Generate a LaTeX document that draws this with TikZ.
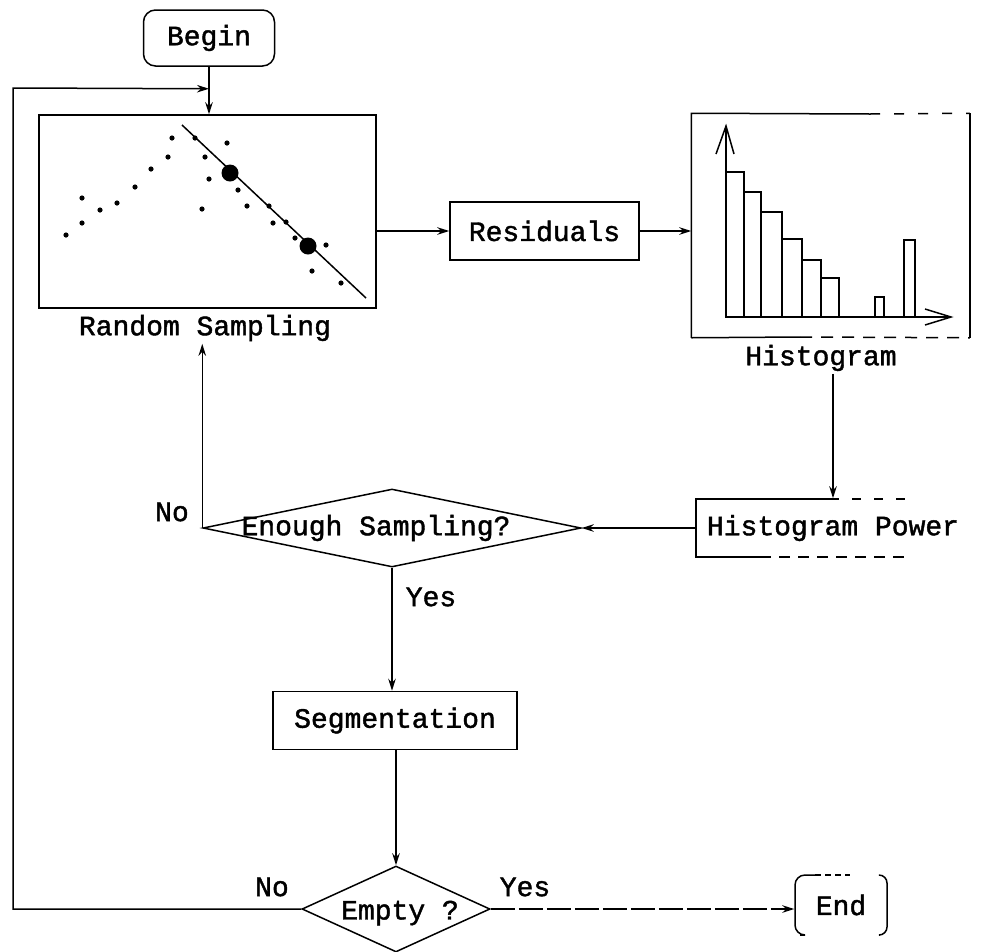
\documentclass[tikz,border=0pt]{standalone}
\usepackage{fontspec}
\newfontfamily\cour{Liberation Mono}[FakeBold=1.5]
\usetikzlibrary{arrows.meta,shapes.geometric}
\begin{document}
\begin{tikzpicture}[x=1pt,y=-1pt,line width=1.5pt,
  font=\cour\fontsize{28}{30}\selectfont,
  box/.style={draw,minimum height=58pt,inner sep=0pt},
  arr/.style={-{Stealth[length=12pt,width=7.5pt]}},
  dia/.style={diamond,draw,inner sep=0pt},
  lbl/.style={inner sep=2pt}]
\useasboundingbox (0,0) rectangle (992,951);

% ---- nodes ----
\node[draw,rounded corners=12pt,minimum width=131pt,minimum height=56pt,inner sep=0pt] (begin) at (209,38) {Begin};
\node[draw,minimum width=337pt,minimum height=193pt,inner sep=0pt] (rs) at (207.5,211.5) {};
\node[lbl] (rslabel) at (205,328) {Random Sampling};
\node[box,minimum width=189pt] (res) at (544.5,231) {Residuals};
\node[minimum width=277pt,minimum height=223pt,inner sep=0pt] (hist) at (830.5,225.5) {};
\node[lbl] (histlabel) at (821,358) {Histogram};
\node[minimum width=274pt,minimum height=58pt,inner sep=0pt] (hp) at (833,528) {Histogram Power};
\node[dia,minimum width=378pt,minimum height=78pt] (enough) at (392,528) {};
\node[lbl] (enoughtext) at (376,528) {Enough Sampling?};
\node[box,minimum width=244pt] (seg) at (395,720.5) {Segmentation};
\node[dia,minimum width=188pt,minimum height=86pt] (empty) at (396,909) {};
\node[lbl] (emptytext) at (400,913) {Empty ?};
\node[minimum width=92pt,minimum height=60pt,inner sep=0pt] (endn) at (841,905) {End};

\node[lbl] (no1) at (172,512) {No};
\node[lbl] (yes1) at (431,597) {Yes};
\node[lbl] (no2) at (272,887) {No};
\node[lbl] (yes2) at (525,887) {Yes};

% ---- scatter plot in Random Sampling ----
\foreach \p in {(66,235),(82,198),(82,223),(100,210),(117,203),(135,187),
  (151,169),(168,157),(172,138),(195,138),(205,157),(209,179),(227,143),
  (202,209),(238,190),(247,206),(269,206),(273,223),(286,222),(295,238),
  (326,245),(312,271),(341,283)}
  \fill \p circle (2.6pt);
\fill (230,173) circle (8.5pt);
\fill (308,246) circle (8.5pt);
\draw (182,125) -- (366,298);

% ---- histogram box ----
\draw (hist.south west) -- (hist.north west) -- (870,114);
\draw[dash pattern=on 10pt off 14pt] (870,114) -- (hist.north east);
\draw (hist.north east) -- (hist.south east);
\draw (hist.south west) -- (800,337);
\draw[dash pattern=on 12pt off 9pt] (800,337) -- (hist.south east);
% bars
\draw (726,317) rectangle (744,172);
\draw (744,317) rectangle (761,192);
\draw (761,317) rectangle (782,212);
\draw (782,317) rectangle (802,239);
\draw (802,317) rectangle (821,260);
\draw (821,317) rectangle (839,278);
\draw (875,317) rectangle (884,297);
\draw (904,317) rectangle (915,240);
% axes
\draw (726,317) -- (726,126);
\draw (716,154) -- (726,126) -- (734,154);
\draw (726,317) -- (951,317);
\draw (925,309) -- (951,317) -- (925,325);

% ---- Histogram Power partial border ----
\draw (830,499) -- (696,499) -- (696,557) -- (760,557);
\draw[dash pattern=on 9pt off 13pt] (830,499) -- (918,499);
\draw[dash pattern=on 11pt off 8pt] (760,557) -- (905,557);

% ---- End partial border ----
\draw[rounded corners=10pt] (815,875) -- (795,875) -- (795,935) -- (800,935);
\draw[dash pattern=on 6pt off 4pt] (815,875) -- (850,875);
\draw[rounded corners=8pt] (880,875) -- (887,875) -- (887,935) -- (880,935);

% ---- connectors ----
\draw[arr] (begin.south) -- (begin.south |- rs.north);
\path (begin.south) ++(0,22) coordinate (j);
\draw[arr] (empty.west) -| (13,88) -- (j);
\draw[arr] (res.west -| rs.east) -- (res.west);
\draw[arr] (res.east) -- (res.east -| hist.west);
\draw[arr] (hp.north |- histlabel.south) -- (hp.north);
\draw[arr] (hp.west) -- (enough.east);
\draw[arr] (enough.west) -- (enough.west |- rslabel.south);
\draw[arr] (enough.south) -- (enough.south |- seg.north);
\draw[arr] (seg.south -| empty.north) -- (empty.north);
\draw[arr,dash pattern=on 24pt off 4pt] (empty.east) -- (empty.east -| endn.west);
\end{tikzpicture}
\end{document}
